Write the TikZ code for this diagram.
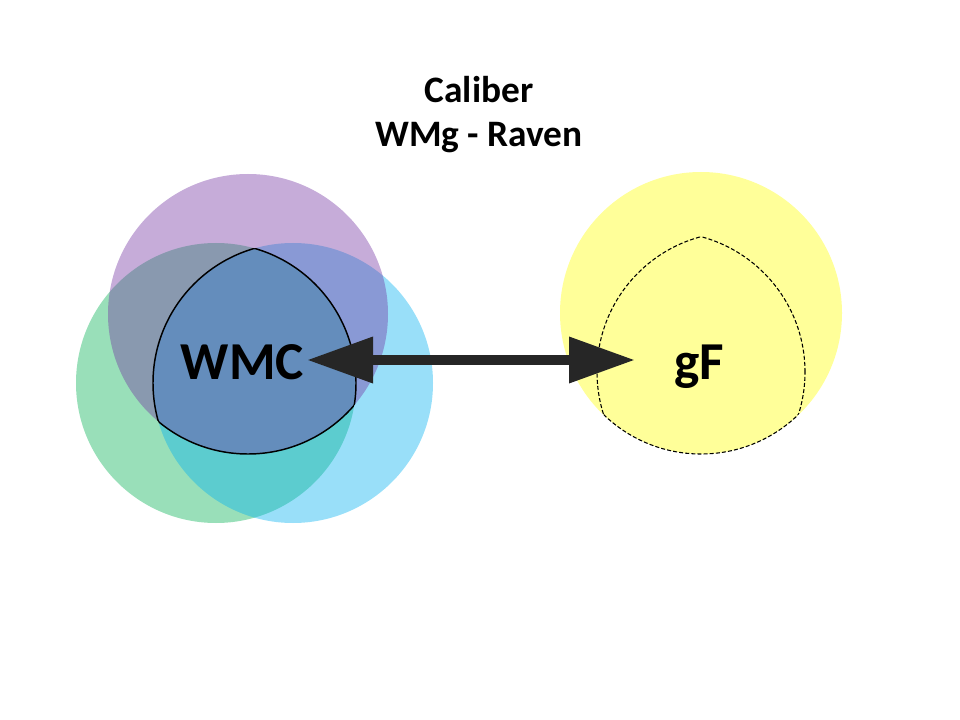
\documentclass[tikz,border=0pt]{standalone}
\usepackage{fontspec}
\setmainfont{Carlito}
\usetikzlibrary{arrows.meta}
\definecolor{vpurple}{HTML}{7030A0}
\definecolor{vgreen}{HTML}{00B050}
\definecolor{vblue}{HTML}{00B0F0}
\definecolor{vyellow}{HTML}{FFFF00}
\definecolor{arrowgray}{HTML}{262626}
\tikzset{
  venn/.style={fill opacity=0.4},
  rim/.style={line width=1.1pt},
  dashrim/.style={line width=0.8pt, dash pattern=on 3pt off 1.6pt},
  bigtext/.style={font=\fontsize{40}{48}\selectfont\bfseries, inner sep=0pt, anchor=base},
  titletext/.style={font=\fontsize{28}{34}\selectfont\bfseries, inner sep=0pt, anchor=base},
}

\begin{document}
\begin{tikzpicture}[x=0.75pt,y=-0.75pt]
    \useasboundingbox (0,0) rectangle (960,720);

    % centres of the circles
    \coordinate (pc) at (248,314);
    \coordinate (gc) at (216,383);
    \coordinate (bc) at (293,383);
    \coordinate (yc) at (701,313);
    \coordinate (ya) at (701,314);
    \coordinate (yb) at (665,372);
    \coordinate (yd) at (737,372);

    \fill[vgreen, venn] (gc) circle[radius=105pt];
    \fill[vblue, venn] (bc) circle[radius=105pt];
    \fill[vpurple, venn] (pc) circle[radius=105pt];
    \fill[vyellow, venn] (yc) circle[radius=105.75pt];

    % outline of the common part
    \begin{scope}
      \clip (gc) circle[radius=105pt];
      \clip (bc) circle[radius=105pt];
      \draw[rim] (pc) circle[radius=105pt];
    \end{scope}
    \begin{scope}
      \clip (pc) circle[radius=105pt];
      \clip (bc) circle[radius=105pt];
      \draw[rim] (gc) circle[radius=105pt];
    \end{scope}
    \begin{scope}
      \clip (pc) circle[radius=105pt];
      \clip (gc) circle[radius=105pt];
      \draw[rim] (bc) circle[radius=105pt];
    \end{scope}

    % dashed outline in the yellow circle
    \begin{scope}
      \clip (yb) circle[radius=105pt];
      \clip (yd) circle[radius=105pt];
      \draw[dashrim] (ya) circle[radius=105pt];
    \end{scope}
    \begin{scope}
      \clip (ya) circle[radius=105pt];
      \clip (yd) circle[radius=105pt];
      \draw[dashrim] (yb) circle[radius=105pt];
    \end{scope}
    \begin{scope}
      \clip (ya) circle[radius=105pt];
      \clip (yb) circle[radius=105pt];
      \draw[dashrim] (yd) circle[radius=105pt];
    \end{scope}

    \node[titletext] (title) at (479,103) {Caliber};
    \node[titletext] (subtitle) at (479,147) {WMg - Raven};

    \node[bigtext] (wmc) at (242.5,379) {WMC};
    \node[bigtext] (gf) at (699.5,379) {gF};

    \coordinate (wmctip) at (307,360);
    \coordinate (gftip) at (635,360);
    \draw[arrowgray, line width=7.5pt,
      {Triangle[length=49.5pt,width=33pt]}-{Triangle[length=49.5pt,width=33pt]}]
      (wmctip)--(gftip);
\end{tikzpicture}
\end{document}
